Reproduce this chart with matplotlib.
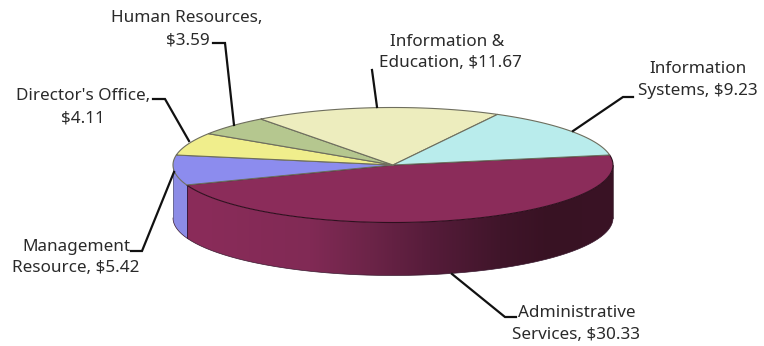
import numpy as np
import matplotlib
matplotlib.use("Agg")
import matplotlib.pyplot as plt
from matplotlib.patches import Polygon
from matplotlib.colors import LinearSegmentedColormap

# Budget shares by division, clockwise from the large Administrative slice
divisions = ["Administrative Services", "Management Resource", "Director's Office",
             "Human Resources", "Information & Education", "Information Systems"]
amounts = [30.33, 5.42, 4.11, 3.59, 11.67, 9.23]
top_colors = ["#8B2C5A", "#8C8CEE", "#F0EE8C", "#B5C78F", "#EDEDBE", "#B9ECEC"]
label_lines = [["Administrative", "Services, $30.33"],
               ["Management", "Resource, $5.42"],
               ["Director's Office,", "$4.11"],
               ["Human Resources,", "$3.59"],
               ["Information &", "Education, $11.67"],
               ["Information", "Systems, $9.23"]]

# Projected disc geometry, in figure pixels
CX, CY, RX, RY, DEPTH = 393.0, 165.0, 220.0, 57.5, 53.0
START_DEG = 10.0

fig = plt.figure(figsize=(7.64, 3.46), dpi=100, facecolor="white")
ax = fig.add_axes([0, 0, 1, 1])
ax.axis("off")


def rim(deg, drop=0.0):
    rad = np.deg2rad(deg)
    return np.column_stack([CX + RX * np.cos(rad), CY - RY * np.sin(rad) + drop])


shares = np.array(amounts) / sum(amounts) * 360.0
ends = START_DEG - np.cumsum(shares)
starts = np.concatenate([[START_DEG], ends[:-1]])

# Front wall of the Management slice, running a little under the next wall
wall_deg = np.linspace(-180, ends[0] + 2.0, 30)
ax.add_patch(Polygon(np.vstack([rim(wall_deg), rim(wall_deg[::-1], DEPTH)]), closed=True,
                     facecolor="#8C8CE6", edgecolor="none", zorder=1))

# Front wall of the large slice, shaded from left to right
x0, x1 = CX + RX * np.cos(np.deg2rad(ends[0])), CX + RX
stops = [(188, "#8B2C5A"), (310, "#812A55"), (370, "#6C2448"), (430, "#561C3A"),
         (500, "#40152A"), (550, "#381223"), (613, "#3A1325")]
wall_cmap = LinearSegmentedColormap.from_list(
    "wall", [((x - stops[0][0]) / (stops[-1][0] - stops[0][0]), c) for x, c in stops])
wall = ax.imshow(np.linspace(0, 1, 512).reshape(1, -1), cmap=wall_cmap, aspect="auto",
                 extent=(x0, x1, CY + RY + DEPTH + 2, CY - 2), zorder=2, interpolation="bilinear")
edge_deg = np.linspace(ends[0], 0, 220)
wall_shape = Polygon(np.vstack([rim(edge_deg), rim(edge_deg[::-1], DEPTH)]), closed=True,
                     transform=ax.transData, facecolor="none", edgecolor="none")
ax.add_patch(wall_shape)
wall.set_clip_path(wall_shape)

# Outline around the wall
low_deg = np.linspace(-180, 0, 200)
ax.plot(*rim(low_deg, DEPTH).T, color="#3A1A30", lw=0.5, zorder=3)
ax.plot(*rim(np.array([0, 0]), np.array([0, DEPTH])).T, color="#2A0E1C", lw=0.5, zorder=3)
ax.plot(*rim(np.array([-180, -180]), np.array([0, DEPTH])).T, color="#666688", lw=0.6, zorder=3)
ax.plot(*rim(np.array([ends[0], ends[0]]), np.array([0, DEPTH])).T, color="#3A1A3A", lw=0.7, zorder=3)

# Top faces of all slices
for s0, s1, color in zip(starts, ends, top_colors):
    arc = rim(np.linspace(s0, s1, 120))
    dark = "#2E0F1E" if color == "#8B2C5A" else "#6E6E5E"
    ax.add_patch(Polygon(np.vstack([[CX, CY], arc]), closed=True, facecolor=color,
                         edgecolor=dark, lw=0.8, joinstyle="round", zorder=4))

# Leader lines from each label to its slice
leaders = [[(452, 274), (505, 317), (516, 317)],
           [(174, 172), (142, 251), (131, 251)],
           [(153, 99), (165, 99), (189, 141)],
           [(213, 43), (225, 43), (234, 125)],
           [(372, 70), (377, 107)],
           [(573, 131), (623, 97), (633, 97)]]
for path in leaders:
    xs, ys = zip(*path)
    ax.plot(xs, ys, color="#111111", lw=1.6, solid_joinstyle="miter", zorder=5)

# Two-line labels, positioned by line centre
label_pos = [[(577, 313), (576, 335)],
             [(76, 247), (76, 268)],
             [(83, 96), (83, 118)],
             [(187, 18), (188, 40)],
             [(447, 42), (450, 63)],
             [(698, 69), (698, 91)]]
for lines, spots in zip(label_lines, label_pos):
    for text, (x, y) in zip(lines, spots):
        ax.text(x, y, text, ha="center", va="center", fontsize=12.3,
                family="Noto Sans", color="#2A2A2A", zorder=6)

ax.set_xlim(0, 764)
ax.set_ylim(346, 0)
fig.savefig("out.png", dpi=100)
